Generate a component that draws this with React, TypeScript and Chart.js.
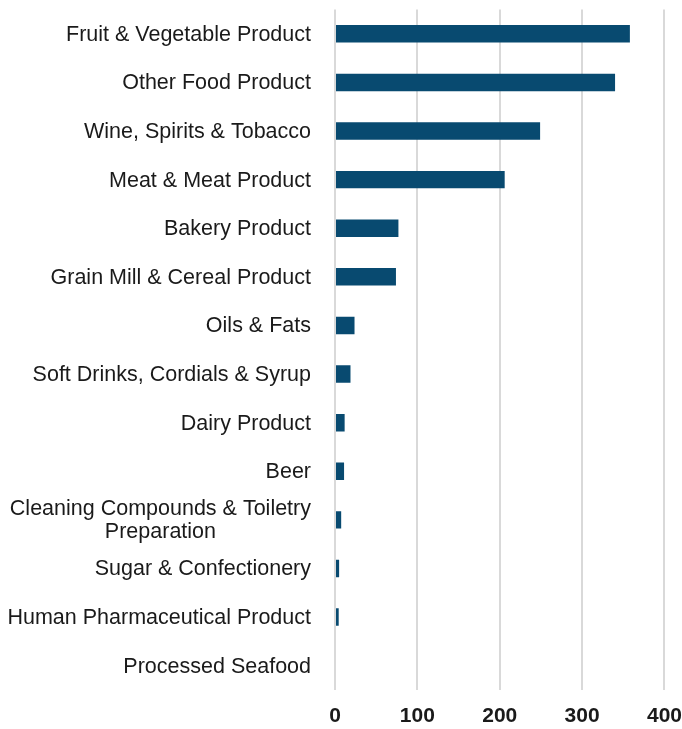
import React, { useEffect, useRef } from "react";
import { Chart, registerables } from "chart.js";

Chart.register(...registerables);

const categories: (string | string[])[] = [
  "Fruit & Vegetable Product",
  "Other Food Product",
  "Wine, Spirits & Tobacco",
  "Meat & Meat Product",
  "Bakery Product",
  "Grain Mill & Cereal Product",
  "Oils & Fats",
  "Soft Drinks, Cordials & Syrup",
  "Dairy Product",
  "Beer",
  ["Cleaning Compounds & Toiletry", "Preparation"],
  "Sugar & Confectionery",
  "Human Pharmaceutical Product",
  "Processed Seafood",
];

const values: number[] = [358, 340, 249, 206, 77, 74, 23.7, 18.8, 11.7, 11, 7.5, 5, 4.5, 0];

const xTicks: number[] = [0, 100, 200, 300, 400];

const LABEL_FONT = '21.5px "Liberation Sans", Arial, sans-serif';

const labelPlugin = {
  id: "centeredYLabels",
  afterDraw(chart: any) {
    const scale = chart.scales.y;
    const ctx = chart.ctx;
    ctx.save();
    ctx.font = LABEL_FONT;
    ctx.fillStyle = "#1a1a1a";
    ctx.textBaseline = "middle";
    ctx.textAlign = "center";
    const right = scale.right - 24;
    const lineHeight = 23;
    categories.forEach((lab, i) => {
      const lines = Array.isArray(lab) ? lab : [lab];
      const maxW = Math.max(...lines.map((l) => ctx.measureText(l).width));
      const cy = scale.getPixelForTick(i) + 1;
      lines.forEach((l, j) => {
        const y = cy + (j - (lines.length - 1) / 2) * lineHeight;
        ctx.fillText(l, right - maxW / 2, y);
      });
    });
    ctx.restore();
  },
};

export default function App() {
  const ref = useRef<HTMLCanvasElement>(null);
  useEffect(() => {
    document.body.style.margin = "0";
    const chart = new Chart(ref.current!, {
      type: "bar",
      data: {
        labels: categories,
        datasets: [
          {
            data: values,
            backgroundColor: "#084a70",
            borderWidth: 0,
            barPercentage: 0.36,
            categoryPercentage: 1,
          },
        ],
      },
      options: {
        indexAxis: "y",
        responsive: false,
        animation: false,
        layout: { padding: { top: 9.5, left: 0, right: 0, bottom: 0 } },
        plugins: {
          legend: { display: false },
          tooltip: { enabled: false },
        },
        scales: {
          x: {
            min: xTicks[0],
            max: xTicks[xTicks.length - 1],
            afterBuildTicks: (s: any) => {
              s.ticks = xTicks.map((v) => ({ value: v }));
            },
            afterFit: (s: any) => {
              s.height = 39;
            },
            grid: {
              color: "#d9d9d9",
              lineWidth: 2,
              drawTicks: true,
              tickLength: 14,
              tickColor: "rgba(0,0,0,0)",
            },
            border: { display: false },
            ticks: {
              padding: 0,
              color: "#1a1a1a",
              font: { family: '"Liberation Sans", Arial, sans-serif', size: 21, weight: "bold" },
            },
          },
          y: {
            afterFit: (s: any) => {
              s.width = 335;
            },
            grid: { display: false, drawTicks: false },
            border: { display: false },
            ticks: { display: false },
          },
        },
      },
      plugins: [labelPlugin],
    });
    return () => chart.destroy();
  }, []);
  return <canvas ref={ref} width={682} height={729} />;
}
